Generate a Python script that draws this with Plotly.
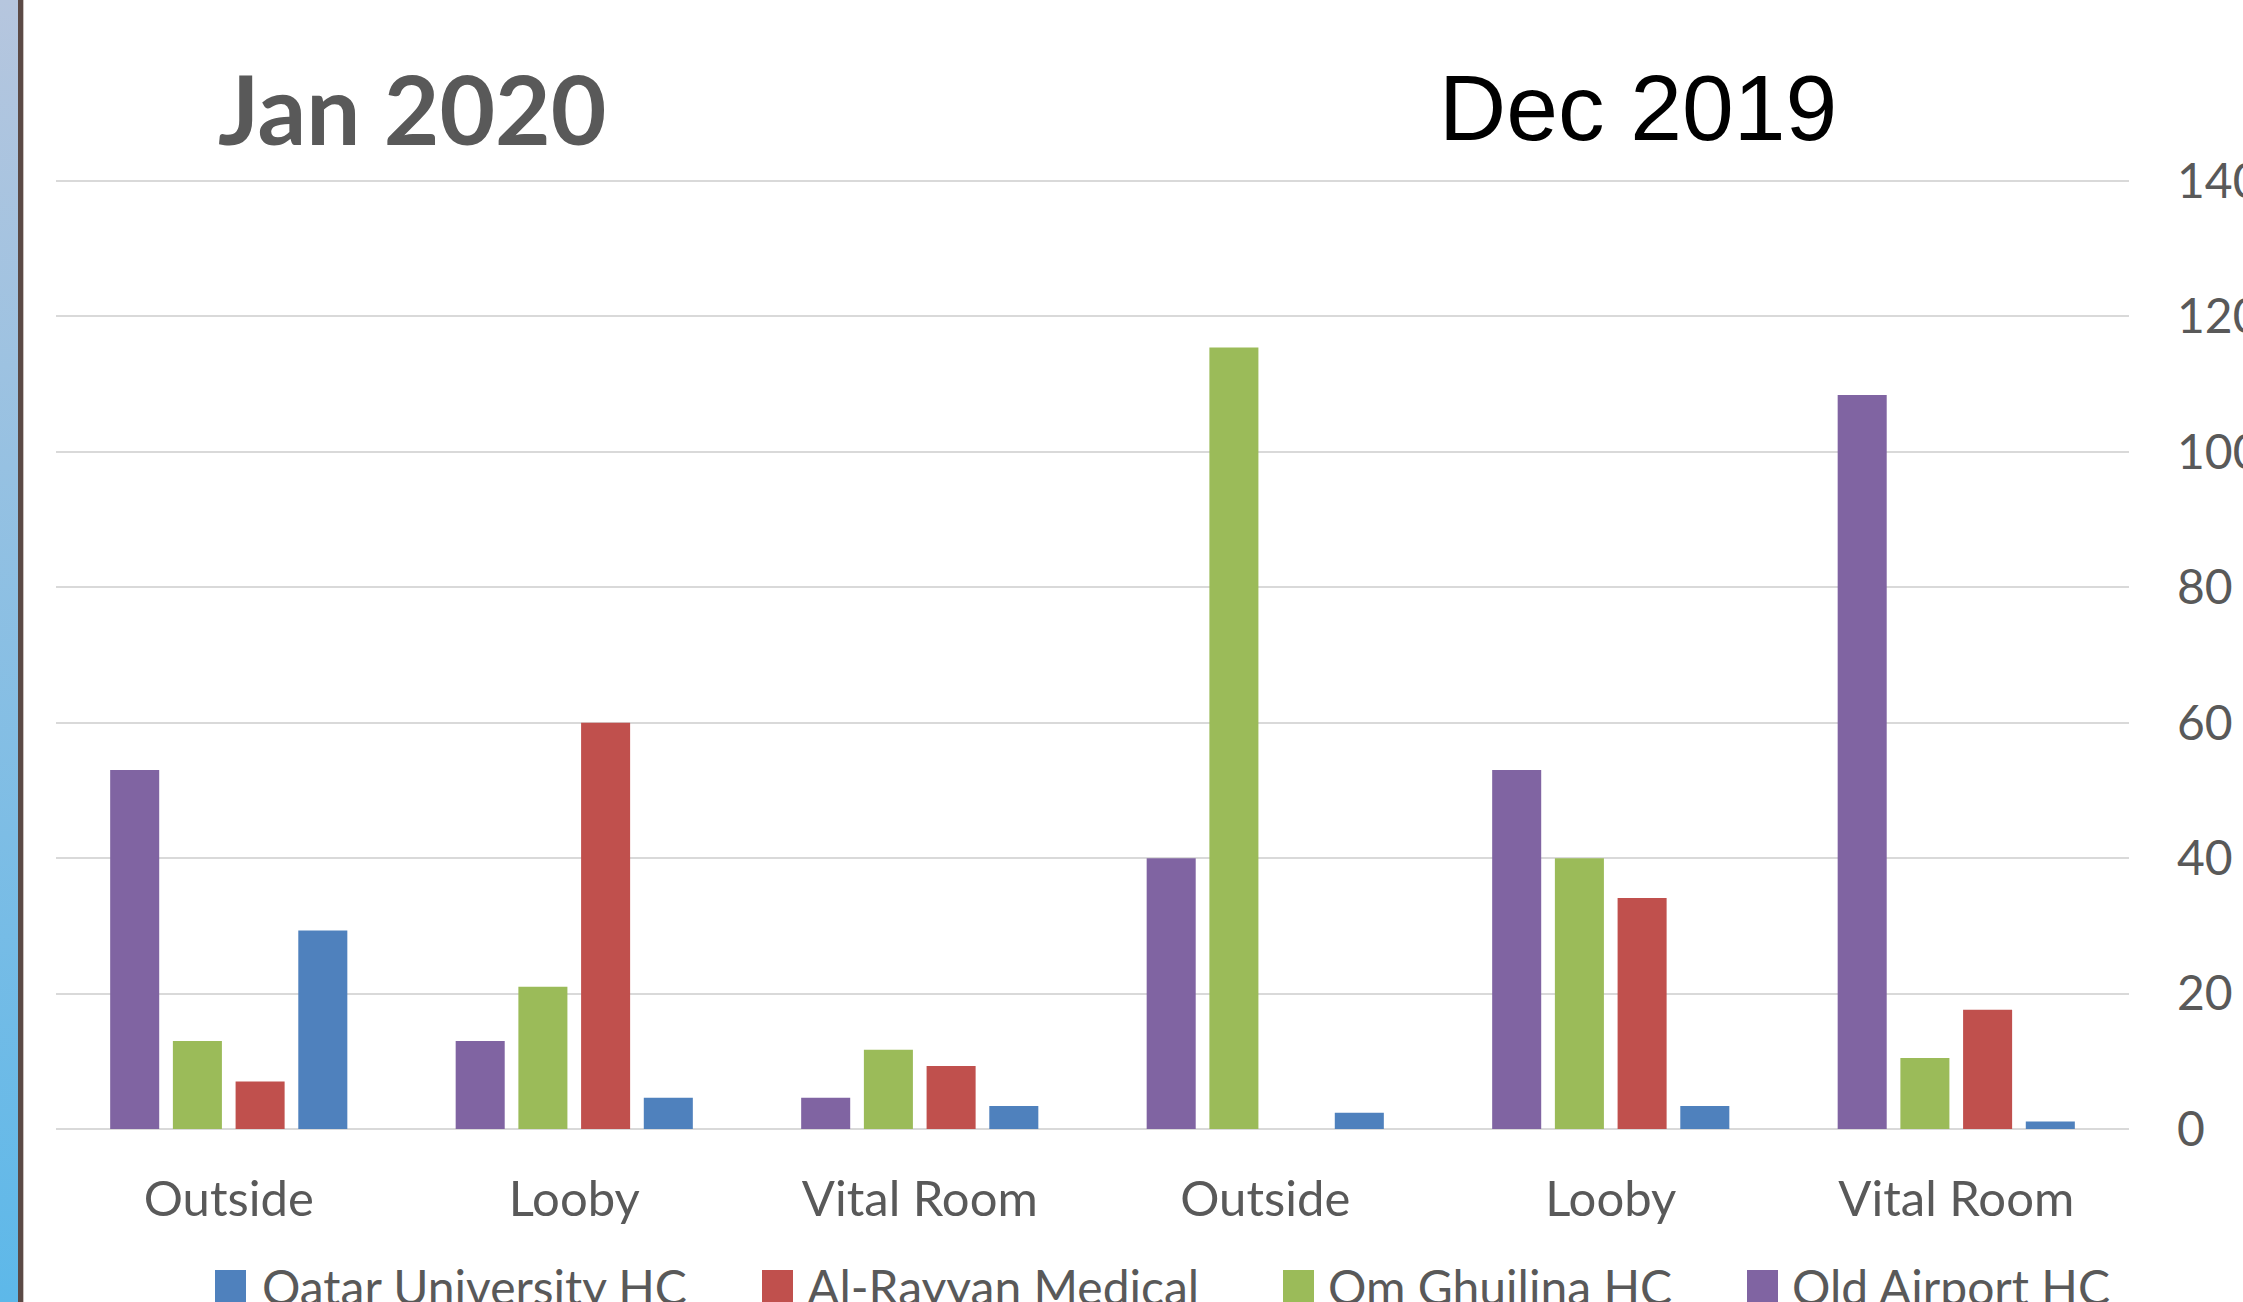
import base64
import plotly.graph_objects as go

# ---------------- data ----------------
periods = ["Jan 2020", "Dec 2019"]
locations = ["Outside", "Looby", "Vital Room", "Outside", "Looby", "Vital Room"]
series_names = ["Old Airport HC", "Om Ghuilina HC", "Al-Rayyan Medical", "Qatar University HC"]
old_airport = [53, 13, 4.6, 40, 53, 108.4]
om_ghuilina = [13, 21, 11.7, 115.4, 40, 10.5]
al_rayyan = [7, 60, 9.3, 0, 34.1, 17.6]
qatar_univ = [29.3, 4.6, 3.4, 2.4, 3.4, 1.1]
series_values = [old_airport, om_ghuilina, al_rayyan, qatar_univ]
series_colors = ["#8064a2", "#9bbb59", "#c0504d", "#4f81bd"]
legend_order = [3, 2, 1, 0]
y_ticks = [0, 20, 40, 60, 80, 100, 120, 140]

# ---------------- layout geometry ----------------
W, H = 2243, 1302
L, R, T, B = 56, 114, 174, 173
PW, PH = W - L - R, H - T - B
Y_TOP_PX = 181                       # pixel row of the 140 gridline
Y_MAX = 140 * PH / (H - B - Y_TOP_PX)  # tiny headroom so the 140 gridline shows


def px(xp):
    return (xp - L) / PW


def py(yp):
    return (H - B - yp) / PH


CAL = "Lato, 'Open Sans', sans-serif"
GREY = "#595959"

fig = go.Figure()
xpos = list(range(len(locations)))
for name, vals, col in zip(series_names, series_values, series_colors):
    fig.add_trace(go.Bar(x=xpos, y=vals, name=name, marker=dict(color=col, line=dict(width=0)),
                         showlegend=False))

fig.update_layout(
    width=W, height=H,
    margin=dict(l=L, r=R, t=T, b=B, autoexpand=False),
    paper_bgcolor="white", plot_bgcolor="white",
    barmode="group", bargap=0.274, bargroupgap=0.218,
    template="none",
    showlegend=False,
)
fig.update_xaxes(
    range=[-0.5, len(locations) - 0.5], tickvals=xpos, ticktext=locations,
    showgrid=False, showline=False, zeroline=False, ticks="",
    tickfont=dict(family=CAL, size=49, color=GREY), ticklabelstandoff=37,
    automargin=False, fixedrange=True,
)
fig.update_yaxes(
    range=[0, Y_MAX], tickvals=y_ticks, side="right",
    showgrid=True, gridcolor="#d9d9d9", gridwidth=2,
    zeroline=True, zerolinecolor="#d9d9d9", zerolinewidth=2,
    showline=False, ticks="",
    tickfont=dict(family=CAL, size=48, color=GREY), ticklabelstandoff=47,
    automargin=False, fixedrange=True,
)

# period titles
fig.add_annotation(text="<b>" + periods[0] + "</b>", xref="paper", yref="paper",
                   x=px(412), y=py(107), xanchor="center", yanchor="middle", showarrow=False,
                   font=dict(family=CAL, size=96, color=GREY))
fig.add_annotation(text=periods[1], xref="paper", yref="paper",
                   x=px(1638), y=py(108), xanchor="center", yanchor="middle", showarrow=False,
                   font=dict(family="Liberation Sans, Arial, sans-serif", size=93, color="black"))

# legend (bottom, clipped by the page edge as in the reference)
leg_sq_x = [215, 762, 1283, 1747]
leg_txt_x = [260, 805, 1326, 1790]
for i, idx in enumerate(legend_order):
    fig.add_shape(type="rect", xref="paper", yref="paper",
                  x0=px(leg_sq_x[i]), x1=px(leg_sq_x[i] + 31), y0=py(1270), y1=py(1302),
                  fillcolor=series_colors[idx], line=dict(width=0))
    fig.add_annotation(text=series_names[idx], xref="paper", yref="paper",
                       x=px(leg_txt_x[i]), y=py(1286), xanchor="left", yanchor="middle",
                       showarrow=False, font=dict(family=CAL, size=48, color=GREY))

# left decorative border (blue gradient strip + dark rule)
svg = ('<svg xmlns="http://www.w3.org/2000/svg" width="18" height="1302">'
       '<defs><linearGradient id="g" x1="0" y1="0" x2="0" y2="1">'
       '<stop offset="0" stop-color="#b6c6de"/><stop offset="1" stop-color="#5db8e9"/>'
       '</linearGradient></defs><rect width="18" height="1302" fill="url(#g)"/></svg>')
src = "data:image/svg+xml;base64," + base64.b64encode(svg.encode()).decode()
fig.add_layout_image(source=src, xref="paper", yref="paper", x=px(0), y=py(0),
                     sizex=18 / PW, sizey=H / PH, xanchor="left", yanchor="top",
                     sizing="stretch", layer="above")
fig.add_shape(type="rect", xref="paper", yref="paper", x0=px(18), x1=px(23), y0=py(H), y1=py(0),
              fillcolor="#5b4a46", line=dict(width=0))
fig.add_shape(type="rect", xref="paper", yref="paper", x0=px(23), x1=px(24), y0=py(H), y1=py(0),
              fillcolor="#c9c2bf", line=dict(width=0))

fig.write_html("out.html", config={"displayModeBar": False})
